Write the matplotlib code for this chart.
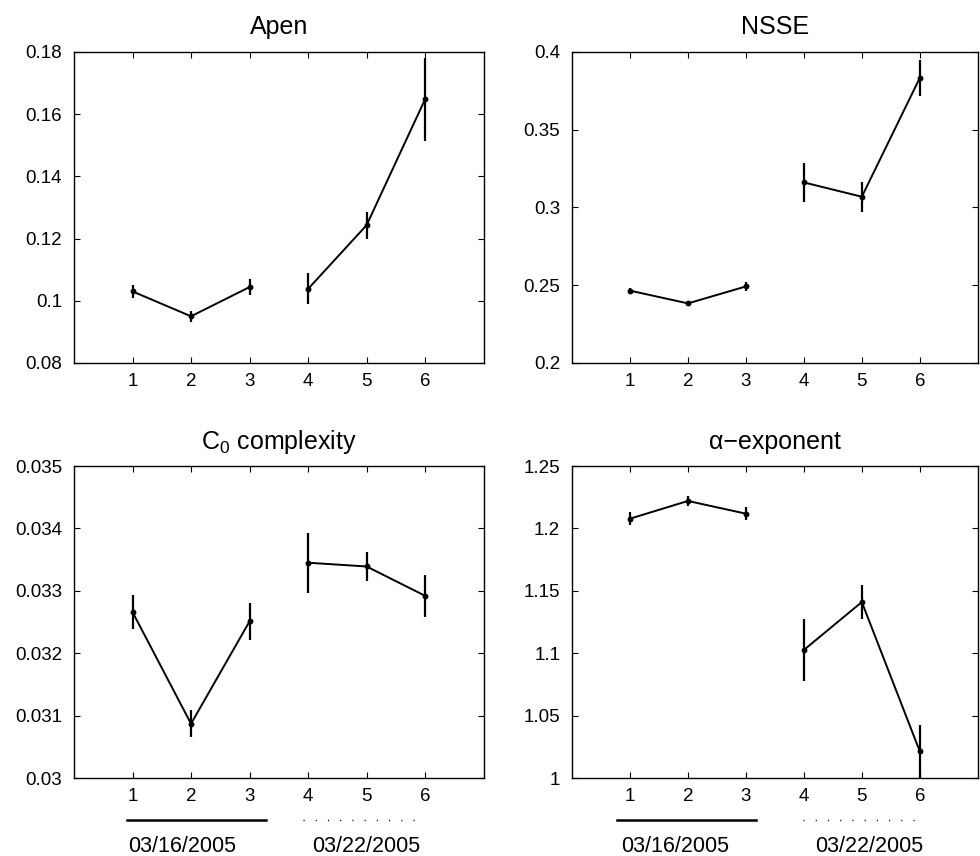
import numpy as np
import matplotlib
matplotlib.use("Agg")
import matplotlib.pyplot as plt
import matplotlib.transforms as mtransforms

plt.rcParams['font.family'] = ['Liberation Sans', 'DejaVu Sans']
plt.rcParams['mathtext.fontset'] = 'custom'
plt.rcParams['mathtext.rm'] = 'Liberation Sans'

# recordings 1-3 on 03/16/2005, 4-6 on 03/22/2005
sessions = [1, 2, 3, 4, 5, 6]

apen_mean = [0.1030, 0.0950, 0.1044, 0.1038, 0.1243, 0.1648]
apen_err = [0.0022, 0.0017, 0.0027, 0.0050, 0.0043, 0.0133]

nsse_mean = [0.2465, 0.2383, 0.2492, 0.3161, 0.3069, 0.3833]
nsse_err = [0.0019, 0.0017, 0.0030, 0.0123, 0.0096, 0.0116]

c0_mean = [0.03266, 0.03087, 0.03251, 0.03345, 0.03339, 0.03292]
c0_err = [0.00027, 0.00022, 0.00030, 0.00048, 0.00023, 0.00034]

alpha_mean = [1.2078, 1.2220, 1.2118, 1.1026, 1.1410, 1.0214]
alpha_err = [0.0050, 0.0042, 0.0050, 0.0246, 0.0134, 0.0211]

panels = [
    ("Apen", apen_mean, apen_err, (0.08, 0.18), [0.08, 0.1, 0.12, 0.14, 0.16, 0.18],
     ["0.08", "0.1", "0.12", "0.14", "0.16", "0.18"]),
    ("NSSE", nsse_mean, nsse_err, (0.2, 0.4), [0.2, 0.25, 0.3, 0.35, 0.4],
     ["0.2", "0.25", "0.3", "0.35", "0.4"]),
    ("C$_0$ complexity", c0_mean, c0_err, (0.03, 0.035),
     [0.03, 0.031, 0.032, 0.033, 0.034, 0.035],
     ["0.03", "0.031", "0.032", "0.033", "0.034", "0.035"]),
    ("\u03b1\u2212exponent", alpha_mean, alpha_err, (1.0, 1.25),
     [1.0, 1.05, 1.1, 1.15, 1.2, 1.25],
     ["1", "1.05", "1.1", "1.15", "1.2", "1.25"]),
]

fig = plt.figure(figsize=(9.8, 8.56), dpi=100)
positions = [
    [0.0755, 0.576, 0.418, 0.3633],
    [0.5837, 0.576, 0.414, 0.3633],
    [0.0755, 0.0911, 0.418, 0.3645],
    [0.5837, 0.0911, 0.414, 0.3645],
]
title_pads = [13, 13, 12, 12]

axes = []
for pos, tpad, (title, mean, err, ylim, yt, ytl) in zip(positions, title_pads, panels):
    ax = fig.add_axes(pos)
    x = np.array(sessions)
    m = np.array(mean)
    e = np.array(err)
    for seg in (slice(0, 3), slice(3, 6)):
        ax.errorbar(x[seg], m[seg], yerr=e[seg], color='black', lw=1.4,
                    elinewidth=1.6, capsize=0, marker='o', markersize=3.2)
    ax.set_xlim(0, 7)
    ax.set_ylim(*ylim)
    ax.set_xticks(sessions)
    ax.set_yticks(yt)
    ax.set_yticklabels(ytl)
    ax.tick_params(direction='in', top=True, right=True, length=4,
                   width=0.8, labelsize=13.5)
    ax.tick_params(axis='y', pad=8.5)
    ax.tick_params(axis='x', pad=7)
    for sp in ax.spines.values():
        sp.set_linewidth(1.0)
    ax.set_title(title, fontsize=18, pad=tpad)
    axes.append(ax)

# date bars under bottom panels
date_layout = [
    (axes[2], (0.90, 3.28), (3.91, 5.97), 0.92, 4.07),
    (axes[3], (0.78, 3.18), (3.98, 6.0), 0.85, 4.19),
]
for ax, solid, dotted, t1, t2 in date_layout:
    trans = mtransforms.blended_transform_factory(ax.transData, ax.transAxes)
    ax.plot(solid, [-0.135, -0.135], color='black', lw=1.8,
            transform=trans, clip_on=False)
    ax.plot(dotted, [-0.135, -0.135], color='black', lw=1.0,
            linestyle=(0, (0.8, 8)), transform=trans, clip_on=False)
    ax.text(t1, -0.218, "03/16/2005", transform=trans, ha='left',
            va='center', fontsize=15.5)
    ax.text(t2, -0.218, "03/22/2005", transform=trans, ha='left',
            va='center', fontsize=15.5)

fig.savefig("out.png", dpi=100, facecolor='white')
